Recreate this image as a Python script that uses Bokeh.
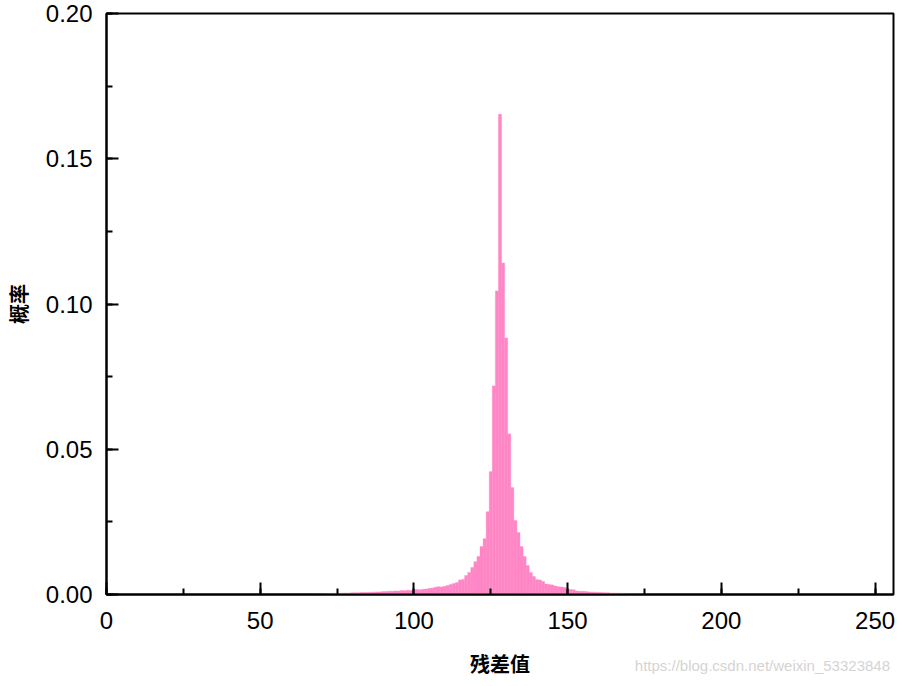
from bokeh.plotting import figure
from bokeh.models import SingleIntervalTicker, NumeralTickFormatter, Range1d, Div
from bokeh.layouts import column
from bokeh.embed import file_html
from bokeh.resources import INLINE

# residual value (bin centre) and probability
residual = list(range(67, 178))
probability = [
    0.0001, 0.0001, 0.0002, 0.0002, 0.0003, 0.0003, 0.0003, 0.0004, 0.0004, 0.0004,  # 67-76
    0.0005, 0.0005, 0.0005, 0.0006, 0.0006, 0.0006, 0.0007, 0.0007, 0.0007, 0.0008,  # 77-86
    0.0008, 0.0009, 0.0009, 0.0010, 0.0010, 0.0011, 0.0011, 0.0012, 0.0012, 0.0014,  # 87-96
    0.0013, 0.0015, 0.0014, 0.0016, 0.0017, 0.0016, 0.0018, 0.0019, 0.0021, 0.0022,  # 97-106
    0.0025, 0.0027, 0.0026, 0.0028, 0.0031, 0.0034, 0.0038, 0.0041, 0.0050, 0.0052,  # 107-116
    0.0065, 0.0076, 0.0093, 0.0113, 0.0131, 0.0165, 0.0192, 0.0285, 0.0423, 0.0718,  # 117-126
    0.1045, 0.1653, 0.1141, 0.0883, 0.0553, 0.0368, 0.0255, 0.0213, 0.0165, 0.0131,  # 127-136
    0.0100, 0.0076, 0.0062, 0.0052, 0.0050, 0.0045, 0.0036, 0.0034, 0.0033, 0.0029,  # 137-146
    0.0027, 0.0026, 0.0024, 0.0018, 0.0017, 0.0016, 0.0012, 0.0011, 0.0011, 0.0010,  # 147-156
    0.0009, 0.0008, 0.0008, 0.0007, 0.0007, 0.0006, 0.0006, 0.0005, 0.0005, 0.0005,  # 157-166
    0.0004, 0.0004, 0.0004, 0.0003, 0.0003, 0.0003, 0.0003, 0.0002, 0.0002, 0.0002,  # 167-176
    0.0001,                                                                          # 177
]

x_label = "残差值"
y_label = "概率"
watermark = "https://blog.csdn.net/weixin_53323848"

PINK = "#FF86C6"

p = figure(width=898, height=684, output_backend="svg", toolbar_location=None,
           x_range=Range1d(0, 256), y_range=Range1d(0, 0.2),
           min_border_left=106, min_border_top=13, min_border_right=5, min_border_bottom=90)

p.vbar(x=residual, top=probability, width=1.0, fill_color=PINK, line_color=PINK,
       line_width=0.4)

p.grid.visible = False
p.background_fill_color = "white"
p.border_fill_color = "white"
p.outline_line_color = "black"
p.outline_line_width = 2

for ax in (p.xaxis[0], p.yaxis[0]):
    ax.axis_line_color = "black"
    ax.axis_line_width = 2
    ax.major_tick_in = 12
    ax.major_tick_out = 0
    ax.minor_tick_in = 6
    ax.minor_tick_out = 0
    ax.major_tick_line_width = 2
    ax.minor_tick_line_width = 2
    ax.major_tick_line_color = "black"
    ax.minor_tick_line_color = "black"
    ax.major_label_text_font = "Liberation Sans"
    ax.major_label_text_font_size = "24px"
    ax.major_label_text_color = "black"
    ax.axis_label_text_font = "Noto Sans CJK SC"
    ax.axis_label_text_font_style = "bold"
    ax.axis_label_text_font_size = "20px"
    ax.axis_label_text_color = "black"

p.xaxis.ticker = SingleIntervalTicker(interval=50, num_minor_ticks=2)
p.yaxis.ticker = SingleIntervalTicker(interval=0.05, num_minor_ticks=2)
p.yaxis.formatter = NumeralTickFormatter(format="0.00")
p.xaxis.axis_label = x_label
p.yaxis.axis_label = y_label
p.xaxis.major_label_standoff = 17
p.yaxis.major_label_standoff = 14
p.xaxis.axis_label_standoff = 17
p.yaxis.axis_label_standoff = 10

mark = Div(text=watermark, width=890, margin=(-27, 0, 0, 0),
           styles={"text-align": "right", "color": "#d4d4d4",
                   "font-family": "Liberation Sans", "font-size": "15px",
                   "line-height": "18px"})

layout = column(p, mark, spacing=0)

open("out.html", "w").write(file_html(layout, INLINE))
